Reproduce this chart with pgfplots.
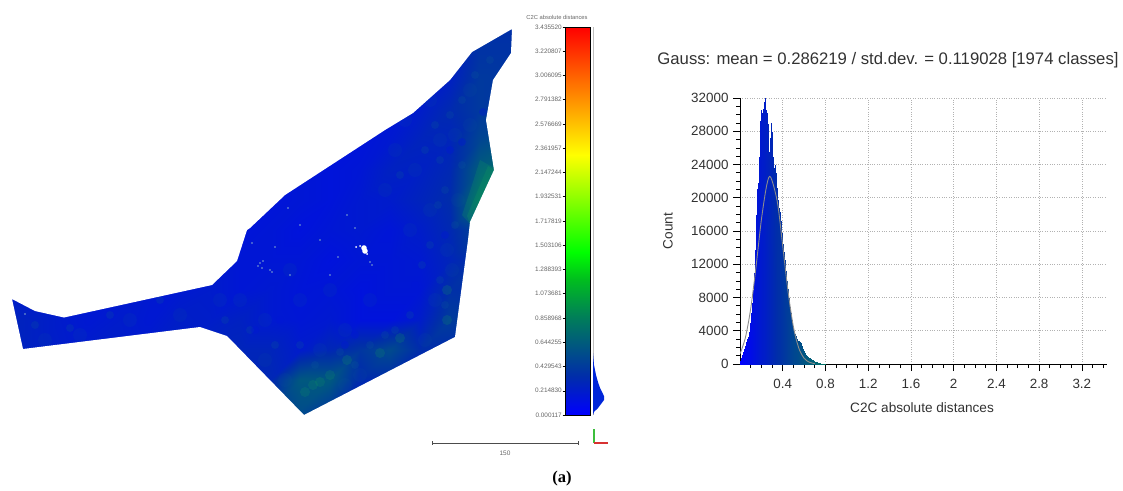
\documentclass[border=0pt]{standalone}
\usepackage{pgfplots}
\usepackage{fontspec}
\setmainfont{Liberation Sans}
\newfontfamily\capfont{Liberation Serif}
\pgfplotsset{compat=1.18}
\definecolor{txt}{RGB}{50,50,50}
\definecolor{mapblue}{RGB}{0,22,215}
\definecolor{mapteal}{RGB}{10,95,150}
\definecolor{mapgreen}{RGB}{15,145,100}
\definecolor{iconG}{RGB}{60,190,60}
\definecolor{iconR}{RGB}{215,50,50}
\pgfplotsset{colormap={cc}{
 rgb255(0)=(0,0,255) rgb255(10)=(0,45,170) rgb255(25)=(0,125,90) rgb255(35)=(0,190,30)
 rgb255(42)=(0,255,0) rgb255(67)=(255,255,0) rgb255(100)=(255,0,0)}}
\pgfplotsset{
 blob/.style n args={3}{only marks, mark=*, mark size=#1, mark options={fill=#2, draw=#2, draw opacity=0, fill opacity=#3}}
}
\begin{document}
\begin{tikzpicture}
\path[use as bounding box] (0pt,0pt) rectangle (1123pt,490pt);
%---------------- map and page-level text (axis in image pixels)
\begin{axis}[at={(0pt,0pt)},anchor=south west,scale only axis,width=1123pt,height=490pt,
  xmin=0,xmax=1123,ymin=0,ymax=490,y dir=reverse,axis lines=none,clip=true,clip mode=individual,
  colormap name=cc,point meta min=0.000117,point meta max=3.43552]
\addplot[surf,shader=interp,mesh/cols=19,point meta=explicit] coordinates {
(0,20)[.17](30,20)[.17](60,20)[.17](90,20)[.17](120,20)[.17](150,20)[.17](180,20)[.17](210,20)[.17](240,20)[.17](270,20)[.17](300,20)[.17](330,20)[.17](360,20)[.17](390,20)[.17](420,20)[.17](450,20)[.25](480,20)[.3](510,20)[.35](525,20)[.3]
(0,50)[.17](30,50)[.17](60,50)[.17](90,50)[.17](120,50)[.17](150,50)[.17](180,50)[.17](210,50)[.17](240,50)[.17](270,50)[.17](300,50)[.17](330,50)[.17](360,50)[.17](390,50)[.17](420,50)[.25](450,50)[.3](480,50)[.38](510,50)[.38](525,50)[.35]
(0,80)[.17](30,80)[.17](60,80)[.17](90,80)[.17](120,80)[.17](150,80)[.17](180,80)[.17](210,80)[.17](240,80)[.17](270,80)[.17](300,80)[.17](330,80)[.17](360,80)[.17](390,80)[.17](420,80)[.2](450,80)[.25](480,80)[.42](510,80)[.4](525,80)[.4]
(0,110)[.17](30,110)[.17](60,110)[.17](90,110)[.17](120,110)[.17](150,110)[.17](180,110)[.17](210,110)[.17](240,110)[.17](270,110)[.17](300,110)[.17](330,110)[.17](360,110)[.17](390,110)[.16](420,110)[.22](450,110)[.32](480,110)[.42](510,110)[.45](525,110)[.45]
(0,140)[.17](30,140)[.17](60,140)[.17](90,140)[.17](120,140)[.17](150,140)[.17](180,140)[.17](210,140)[.17](240,140)[.17](270,140)[.17](300,140)[.17](330,140)[.17](360,140)[.15](390,140)[.19](420,140)[.27](450,140)[.28](480,140)[.5](510,140)[.6](525,140)[.6]
(0,170)[.17](30,170)[.17](60,170)[.17](90,170)[.17](120,170)[.17](150,170)[.17](180,170)[.17](210,170)[.17](240,170)[.17](270,170)[.17](300,170)[.17](330,170)[.15](360,170)[.17](390,170)[.25](420,170)[.24](450,170)[.31](480,170)[.65](510,170)[.85](525,170)[.85]
(0,200)[.17](30,200)[.17](60,200)[.17](90,200)[.17](120,200)[.17](150,200)[.17](180,200)[.17](210,200)[.17](240,200)[.15](270,200)[.15](300,200)[.17](330,200)[.15](360,200)[.19](390,200)[.21](420,200)[.27](450,200)[.34](480,200)[.8](510,200)[.8](525,200)[.8]
(0,230)[.17](30,230)[.17](60,230)[.17](90,230)[.17](120,230)[.17](150,230)[.17](180,230)[.17](210,230)[.17](240,230)[.15](270,230)[.17](300,230)[.14](330,230)[.17](360,230)[.19](390,230)[.16](420,230)[.22](450,230)[.31](480,230)[.5](510,230)[.4](525,230)[.4]
(0,260)[.17](30,260)[.17](60,260)[.17](90,260)[.17](120,260)[.17](150,260)[.17](180,260)[.17](210,260)[.17](240,260)[.17](270,260)[.17](300,260)[.17](330,260)[.14](360,260)[.17](390,260)[.17](420,260)[.19](450,260)[.28](480,260)[.4](510,260)[.3](525,260)[.3]
(0,290)[.19](30,290)[.19](60,290)[.19](90,290)[.19](120,290)[.19](150,290)[.19](180,290)[.19](210,290)[.21](240,290)[.17](270,290)[.19](300,290)[.16](330,290)[.17](360,290)[.14](390,290)[.17](420,290)[.17](450,290)[.36](480,290)[.35](510,290)[.3](525,290)[.3]
(0,320)[.28](30,320)[.25](60,320)[.21](90,320)[.18](120,320)[.21](150,320)[.18](180,320)[.23](210,320)[.22](240,320)[.25](270,320)[.19](300,320)[.17](330,320)[.19](360,320)[.14](390,320)[.14](420,320)[.22](450,320)[.44](480,320)[.4](510,320)[.3](525,320)[.3]
(0,350)[.28](30,350)[.25](60,350)[.22](90,350)[.22](120,350)[.22](150,350)[.22](180,350)[.22](210,350)[.27](240,350)[.28](270,350)[.28](300,350)[.21](330,350)[.3](360,350)[.4](390,350)[.53](420,350)[.34](450,350)[.33](480,350)[.3](510,350)[.3](525,350)[.3]
(0,380)[.3](30,380)[.3](60,380)[.3](90,380)[.3](120,380)[.3](150,380)[.3](180,380)[.3](210,380)[.3](240,380)[.3](270,380)[.3](300,380)[.62](330,380)[.62](360,380)[.32](390,380)[.33](420,380)[.3](450,380)[.3](480,380)[.3](510,380)[.3](525,380)[.3]
(0,410)[.3](30,410)[.3](60,410)[.3](90,410)[.3](120,410)[.3](150,410)[.3](180,410)[.3](210,410)[.3](240,410)[.3](270,410)[.4](300,410)[.55](330,410)[.42](360,410)[.3](390,410)[.3](420,410)[.3](450,410)[.3](480,410)[.3](510,410)[.3](525,410)[.3]
(0,440)[.3](30,440)[.3](60,440)[.3](90,440)[.3](120,440)[.3](150,440)[.3](180,440)[.3](210,440)[.3](240,440)[.3](270,440)[.3](300,440)[.4](330,440)[.3](360,440)[.3](390,440)[.3](420,440)[.3](450,440)[.3](480,440)[.3](510,440)[.3](525,440)[.3]
};
\addplot[blob={7}{mapteal}{0.10}] coordinates {(385,190)(395,150)(410,230)(370,300)(345,330)(300,300)(290,270)(330,290)(240,300)(220,300)(265,320)(320,350)(435,300)(425,340)(360,375)(345,385)(265,360)(285,380)(180,315)(130,320)(80,335)(45,340)(440,140)(430,100)(455,135)(470,90)(470,125)(458,200)(447,250)(452,270)(430,210)(415,170)(405,120)};
\addplot[blob={4}{mapteal}{0.2}] coordinates {(462,100)(450,115)(475,75)(490,60)(440,160)(462,165)(445,190)(430,245)(440,280)(410,315)(395,330)(370,345)(340,352)(315,365)(290,405)(275,345)(250,330)(225,320)(160,300)(110,315)(70,328)(35,325)(300,345)(355,365)(385,335)(445,305)(435,125)(425,150)(400,175)(455,225)(438,205)(422,265)};
\addplot[blob={4}{mapblue}{0.35}] coordinates {(483,112)(450,150)(462,142)(445,235)(415,285)(405,300)(355,335)(280,320)(255,330)(345,345)};
\addplot[blob={5}{mapgreen}{0.22}] coordinates {(313,385)(320,382)(305,392)(330,375)(400,338)(380,353)(447,320)(447,290)(347,360)};
\addplot[fill=mapgreen,draw=none,opacity=0.25] coordinates {(494,168)(470,224)(462,215)(472,185)(480,160)(494,168)};
\addplot[fill=mapgreen,draw=none,opacity=0.3] coordinates {(494,170)(470,224)(467,216)(478,190)(488,166)(494,170)};
%----- mask: the frame round the map, in one keyhole outline
\addplot[fill=white,draw=none] coordinates {(-2,299)(-2,445)(532,445)(532,15)(-2,15)(-2,299)(12,299)(35,311)(64,317.5)(212,285)(237,261)(247,230)(250,228)(285,195)(385,130)(413,113)(450,80)(472,52)(512,29)(511,53)(493,80)(486,120)(494,170)(470,222)(468,240)(455,337)(304,415)(227,336)(200,327)(23,349)(12,299)(-2,299)};
%----- specks and hole
\addplot[blob={0.9}{white!55!mapteal}{0.9}] coordinates {(260,263)(258,266)(263,261)(262,268)(270,270)(272,272)(252,243)(288,208)(347,215)(370,262)(372,265)(338,257)(275,247)(300,225)(320,240)(290,275)(330,275)(355,228)(25,314)};
\addplot[blob={2.8}{white}{1}] coordinates {(364,248)(365,251)};
\addplot[blob={1}{white}{1}] coordinates {(356,247)(360,246)(367,254)};
%----- scale bar and axes icon
\addplot[draw=black!70,line width=0.8pt] coordinates {(432,443)(578,443)};
\addplot[draw=black!70,line width=0.8pt] coordinates {(432,441)(432,445)};
\addplot[draw=black!70,line width=0.8pt] coordinates {(578,441)(578,445)};
\addplot[draw=iconG,line width=1.3pt] coordinates {(594,429)(594,443)};
\addplot[draw=iconR,line width=1.3pt] coordinates {(594,443)(608,443)};
\node[font=\fontsize{6.5}{7}\selectfont,text=black!60] at (axis cs:505,453) {150};
\node[font=\fontsize{5.8}{7}\selectfont,text=black!60] at (axis cs:557,17) {C2C absolute distances};
\node[font=\capfont\bfseries\fontsize{16.5}{18}\selectfont,text=black] at (axis cs:562,479) {(a)};
\node[font=\fontsize{16.7}{18}\selectfont,text=txt] at (axis cs:888,60) {Gauss: mean = 0.286219 / std.dev. = 0.119028 [1974 classes]};
\end{axis}
%---------------- colour scale
\begin{axis}[at={(565pt,75pt)},anchor=south west,scale only axis,width=25pt,height=388pt,
  xmin=0,xmax=1,ymin=0.000117,ymax=3.43552,clip=false,colormap name=cc,axis on top,
  point meta min=0.000117,point meta max=3.43552,
  axis line style={black,line width=0.8pt},xtick=\empty,
  ytick={0.000117,0.214830,0.429543,0.644255,0.858968,1.073681,1.288393,1.503106,1.717819,1.932531,2.147244,2.361957,2.576669,2.791382,3.006095,3.220807,3.435520},
  yticklabels={0.000117,0.214830,0.429543,0.644255,0.858968,1.073681,1.288393,1.503106,1.717819,1.932531,2.147244,2.361957,2.576669,2.791382,3.006095,3.220807,3.435520},
  tick align=outside,tickwidth=2.5pt,tick style={black,line width=0.5pt},ytick pos=left,
  yticklabel style={font=\fontsize{6.4}{7}\selectfont,text=black!60,inner sep=0.5pt}]
\addplot[surf,shader=interp,mesh/ordering=y varies,mesh/rows=2,point meta=y] table[x=x,y=y] {
x y
0 0.000117
0 3.43552
1 0.000117
1 3.43552
};
\addplot[draw=black!25,line width=0.5pt] coordinates {(1.12,0.000117)(1.12,3.43552)};
\addplot[fill=blue!70!teal,draw=none] coordinates {(1.12,0.549)(1.16,0.443)(1.24,0.354)(1.32,0.292)(1.4,0.239)(1.48,0.204)(1.56,0.168)(1.56,0.133)(1.44,0.097)(1.32,0.062)(1.16,0.027)(1.12,0.000117)(1.12,0.549)};
\end{axis}
%---------------- histogram
\begin{axis}[at={(740pt,126pt)},anchor=south west,scale only axis,width=367pt,height=266pt,
  xmin=0.000117,xmax=3.4355,ymin=0,ymax=32000,colormap name=cc,
  point meta min=0.000117,point meta max=3.43552,
  axis x line=bottom,axis y line=left,axis line style={-,black,line width=0.8pt},
  /pgf/number format/assume math mode=true,
  /pgf/number format/1000 sep={},scaled y ticks=false,scaled x ticks=false,
  xtick={0.4,0.8,1.2,1.6,2,2.4,2.8,3.2},
  xticklabels={0.4,0.8,1.2,1.6,2,2.4,2.8,3.2},
  minor xtick={0.1,0.2,0.3,0.5,0.6,0.7,0.9,1.0,1.1,1.3,1.4,1.5,1.7,1.8,1.9,2.1,2.2,2.3,2.5,2.6,2.7,2.9,3.0,3.1,3.3,3.4},
  ytick={0,4000,8000,12000,16000,20000,24000,28000,32000},
  yticklabels={0,4000,8000,12000,16000,20000,24000,28000,32000},
  minor y tick num=3,
  tick align=outside,major tick length=7pt,minor tick length=4pt,
  tick style={black,line width=0.7pt},
  grid=major,major grid style={dotted,black!30,line width=0.6pt},
  tick label style={font=\fontsize{13.4}{15}\selectfont,text=txt},
  yticklabel style={xshift=-1pt},
  xticklabel style={yshift=-5pt},
  xlabel={C2C absolute distances},ylabel={Count},
  label style={font=\fontsize{13.6}{15}\selectfont,text=txt},
  xlabel style={at={(axis description cs:0.496,0)},anchor=center,yshift=-44pt},
  ylabel style={at={(axis description cs:0,0.5)},anchor=center,yshift=72pt},
  clip=true]
\addplot[surf,shader=interp,mesh/ordering=y varies,mesh/rows=2,point meta=x] table[x=x,y=y] {
x y
0.001 0
0.001 300
0.01 0
0.01 600
0.02 0
0.02 1000
0.03 0
0.03 1300
0.04 0
0.04 1700
0.05 0
0.05 2000
0.06 0
0.06 2500
0.07 0
0.07 2900
0.08 0
0.08 3500
0.09 0
0.09 4500
0.10 0
0.10 5500
0.11 0
0.11 6800
0.12 0
0.12 8000
0.13 0
0.13 10000
0.14 0
0.14 12000
0.15 0
0.15 15500
0.16 0
0.16 20500
0.17 0
0.17 21800
0.18 0
0.18 22000
0.19 0
0.19 28000
0.20 0
0.20 30500
0.21 0
0.21 30000
0.22 0
0.22 31000
0.23 0
0.23 32200
0.24 0
0.24 29000
0.25 0
0.25 30200
0.26 0
0.26 27500
0.27 0
0.27 23500
0.28 0
0.28 25500
0.29 0
0.29 29000
0.30 0
0.30 27000
0.31 0
0.31 23000
0.32 0
0.32 23500
0.33 0
0.33 24000
0.34 0
0.34 22000
0.35 0
0.35 20500
0.36 0
0.36 19000
0.37 0
0.37 18000
0.38 0
0.38 16500
0.39 0
0.39 15000
0.40 0
0.40 14000
0.41 0
0.41 13000
0.42 0
0.42 12000
0.43 0
0.43 10500
0.44 0
0.44 9500
0.45 0
0.45 8500
0.46 0
0.46 7300
0.47 0
0.47 6500
0.48 0
0.48 5800
0.49 0
0.49 4800
0.50 0
0.50 4300
0.51 0
0.51 3700
0.52 0
0.52 3300
0.53 0
0.53 2900
0.54 0
0.54 2800
0.55 0
0.55 2800
0.56 0
0.56 2700
0.57 0
0.57 2400
0.58 0
0.58 2000
0.59 0
0.59 1700
0.60 0
0.60 1400
0.62 0
0.62 1100
0.64 0
0.64 800
0.66 0
0.66 600
0.68 0
0.68 450
0.70 0
0.70 300
0.72 0
0.72 200
0.75 0
0.75 120
0.80 0
0.80 50
0.85 0
0.85 0
};
\addplot[draw=black!45,line width=0.9pt,smooth] coordinates {(0.001,1250)(0.05,3150)(0.1,6640)(0.15,11700)(0.2,17330)(0.25,21500)(0.286,22500)(0.35,19470)(0.4,14220)(0.45,8710)(0.5,4470)(0.55,1920)(0.6,690)(0.65,210)(0.7,50)};
\end{axis}
\end{tikzpicture}
\end{document}
